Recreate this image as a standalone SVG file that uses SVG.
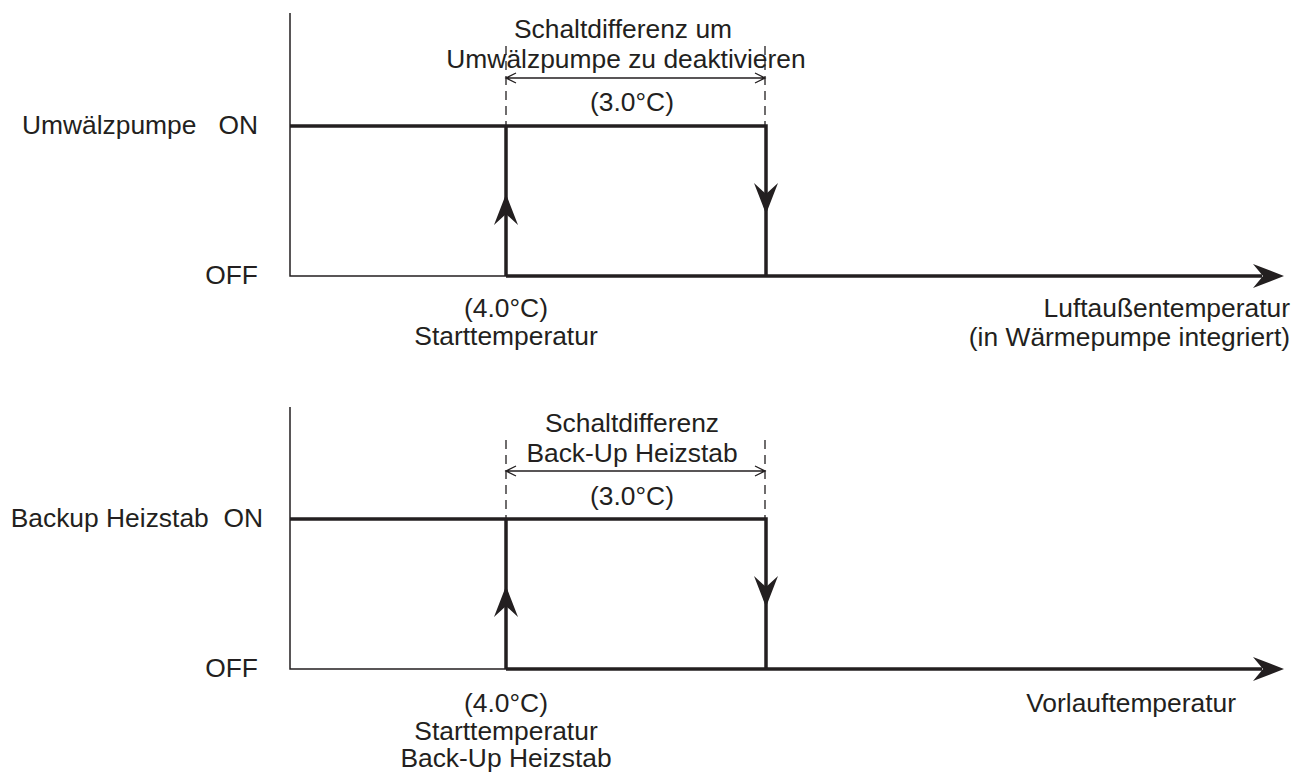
<svg xmlns="http://www.w3.org/2000/svg" width="1293" height="772" viewBox="0 0 1293 772">
<style>
text{font-family:"Liberation Sans",Arial,sans-serif;font-size:26.4px;fill:#231f20}
.m{text-anchor:middle}.e{text-anchor:end}
.ax{stroke:#231f20;stroke-width:1.5;fill:none}
.th{stroke:#231f20;stroke-width:3.5;fill:none}
.ds{stroke:#231f20;stroke-width:1.3;stroke-dasharray:9,6;fill:none}
.dm{stroke:#231f20;stroke-width:1.3;fill:none}
.ah{fill:#231f20}
</style>
<rect width="1293" height="772" fill="#fff"/>
<defs>
<path id="hd" d="M0,0 L-12,-31 L0,-20 L12,-31 Z"/>
</defs>
<g id="connectors">
<!-- top chart -->
<path class="ax" d="M290,13 V276 H506"/>
<path class="th" d="M290,126 H766 V276"/>
<path class="th" d="M506,276 V126"/>
<path class="th" d="M506,276 H1262"/>
<path class="ah" d="M1284,276 L1253,264 L1263,276 L1253,288 Z"/>
<use href="#hd" transform="translate(506,194) rotate(180)" class="ah"/>
<use href="#hd" transform="translate(766,214)" class="ah"/>
<path class="ds" d="M506,46 V126 M765,46 V126"/>
<path class="dm" d="M506,78 H765 M516,73 L506,78 L516,83 M755,73 L765,78 L755,83"/>
<!-- bottom chart -->
<path class="ax" d="M290,407 V669 H506"/>
<path class="th" d="M290,519 H766 V669"/>
<path class="th" d="M506,669 V519"/>
<path class="th" d="M506,669 H1262"/>
<path class="ah" d="M1284,669 L1253,657 L1263,669 L1253,681 Z"/>
<use href="#hd" transform="translate(506,586) rotate(180)" class="ah"/>
<use href="#hd" transform="translate(766,607)" class="ah"/>
<path class="ds" d="M506,440 V519 M765,440 V519"/>
<path class="dm" d="M506,471 H765 M516,466 L506,471 L516,476 M755,466 L765,471 L755,476"/>
</g>
<g id="top-labels">
<text class="m" x="623" y="38">Schaltdifferenz um</text>
<text class="m" x="626" y="68">Umwälzpumpe zu deaktivieren</text>
<text class="m" x="632" y="111">(3.0°C)</text>
<text class="e" x="258" y="134" xml:space="preserve">Umwälzpumpe   ON</text>
<text class="e" x="258" y="284">OFF</text>
<text class="m" x="506" y="317">(4.0°C)</text>
<text class="m" x="506" y="345">Starttemperatur</text>
<text class="e" x="1290" y="317">Luftaußentemperatur</text>
<text class="e" x="1290" y="346">(in Wärmepumpe integriert)</text>
</g>
<g id="bottom-labels">
<text class="m" x="632" y="432">Schaltdifferenz</text>
<text class="m" x="632" y="462">Back-Up Heizstab</text>
<text class="m" x="632" y="505">(3.0°C)</text>
<text class="e" x="263" y="527" xml:space="preserve">Backup Heizstab  ON</text>
<text class="e" x="258" y="677">OFF</text>
<text class="m" x="506" y="712">(4.0°C)</text>
<text class="m" x="506" y="740">Starttemperatur</text>
<text class="m" x="506" y="767">Back-Up Heizstab</text>
<text class="e" x="1236" y="712">Vorlauftemperatur</text>
</g>
</svg>
